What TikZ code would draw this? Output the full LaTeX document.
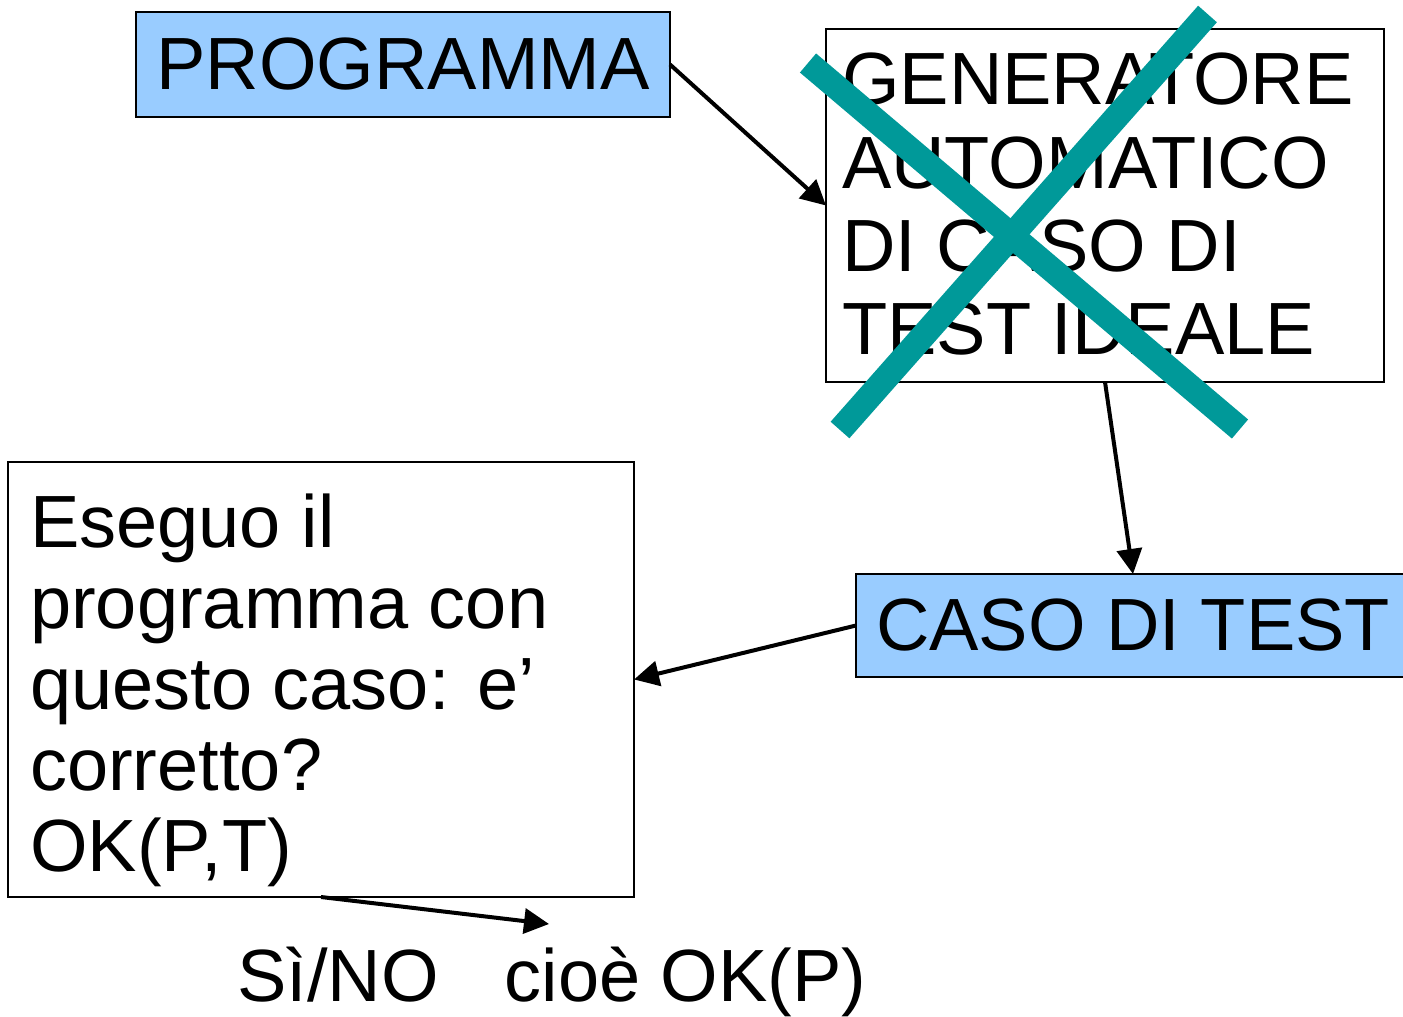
\documentclass[tikz,border=0pt]{standalone}
\usepackage{fontspec}
\setmainfont{Liberation Sans}
\usetikzlibrary{arrows.meta}
\definecolor{boxblue}{HTML}{99CCFF}
\definecolor{crossteal}{HTML}{009999}
\begin{document}
\begin{tikzpicture}[x=1pt,y=-1pt,
  frame/.style={draw=black, line width=2pt, inner sep=0pt, outer sep=0pt},
  bluebox/.style={frame, fill=boxblue},
  bigtext/.style={font=\fontsize{74pt}{83.3pt}\selectfont},
  blocktext/.style={inner sep=0pt, anchor=north west, align=left},
  conn/.style={line width=4pt, -{Triangle[length=25pt,width=25pt]}},
  strike/.style={crossteal, line width=25pt}]
\useasboundingbox (0,0) rectangle (1403,1017);

% boxes
\node[bluebox, bigtext, minimum width=534pt, minimum height=105pt] (prog) at (403,64.5) {PROGRAMMA};
\node[frame, minimum width=558pt, minimum height=353pt] (gen) at (1105,205.5) {};
\node[bluebox, bigtext, minimum width=554pt, minimum height=103pt] (caso) at (1133,625.5) {CASO DI TEST};
\node[frame, minimum width=626pt, minimum height=435pt] (exe) at (321,679.5) {};

% texts inside the white boxes
\node[blocktext, bigtext] (gentext) at (842,53)
  {GENERATORE\\AUTOMATICO\\DI CASO DI\\TEST IDEALE};
\node[blocktext, font=\fontsize{74pt}{81pt}\selectfont] (exetext) at (30,494)
  {Eseguo il\\programma con\\questo caso: e’\\corretto?\\OK(P,T)};

% crossing out the generator
\draw[strike] (808,63) -- (1240,429);
\draw[strike] (1207.5,14) -- (840,430);

% connectors
\coordinate (answerpt) at (549,924);
\draw[conn] (prog.east) -- (gen.west);
\draw[conn] (gen.south) -- (caso.north);
\draw[conn] (caso.west) -- (exe.east);
\draw[conn] (exe.south) -- (answerpt);

% answer
\node[bigtext, inner sep=0pt, anchor=base west] (answer) at (237,1001)
  {Sì/NO\hspace*{66pt}cioè OK(P)};
\end{tikzpicture}
\end{document}
